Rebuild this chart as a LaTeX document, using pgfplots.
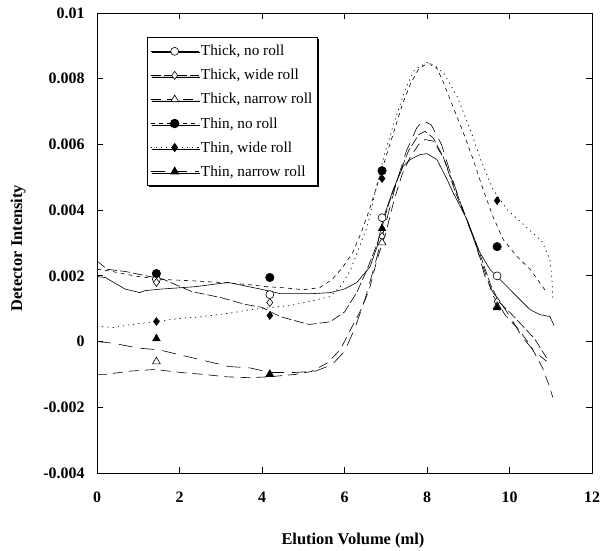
\documentclass[border=0pt]{standalone}
\usepackage{fontspec}
\setmainfont{Liberation Serif}
\usepackage{pgfplots}
\pgfplotsset{compat=1.18}
\usetikzlibrary{shadows}
\pgfplotsset{
  legline/.style={legend image code/.code={%
    \draw[black, line width=0.6bp, #1] (0bp,0bp) -- (48bp,0bp);%
    \draw[mark repeat=2,mark phase=2,##1] plot coordinates {(0bp,0bp)(24bp,0bp)(48bp,0bp)};}},
}
\begin{document}
\begin{tikzpicture}
\path[use as bounding box] (-97bp,-78bp) rectangle (506bp,473bp);
\begin{axis}[
  scale only axis, width=495bp, height=460bp,
  xmin=0, xmax=12, ymin=-0.004, ymax=0.01,
  xtick={0,2,4,6,8,10,12},
  ytick={-0.004,-0.002,0,0.002,0.004,0.006,0.008,0.01},
  scaled y ticks=false,
  /pgf/number format/assume math mode=true,
  yticklabel style={/pgf/number format/fixed, /pgf/number format/precision=3, xshift=-9bp},
  xticklabel style={yshift=-15bp},
  tick label style={font=\bfseries\fontsize{16}{18}\selectfont},
  tick align=inside, major tick length=6bp,
  axis line style={line width=0.9bp},
  every tick/.style={black, line width=0.8bp},
  every axis x label/.style={at={(axis description cs:0.517,0)}, anchor=center, yshift=-68bp},
  every axis y label/.style={at={(axis description cs:-0.159,0.489)}, rotate=90, anchor=center},
  label style={font=\bfseries\fontsize{16.5}{19}\selectfont},
  xlabel={Elution Volume (ml)},
  ylabel={Detector Intensity},
  legend style={at={(axis description cs:0.101,0.948)}, anchor=north west,
    draw=black, line width=0.8bp, fill=white,
    drop shadow={shadow xshift=1.5bp, shadow yshift=-1.5bp, fill=black, opacity=1},
    font=\fontsize{15.3}{18}\selectfont, row sep=8bp,
    inner xsep=3bp, inner ysep=6bp, cells={anchor=west}},
  legend cell align=left,
]
% ---------- lines ----------
% Thick, no roll (solid)
\addplot[black, line width=0.6bp, forget plot] coordinates {
(0,1.98e-3)(0.2,1.95e-3)(0.68,1.6e-3)(1.04,1.49e-3)(1.16,1.55e-3)(1.58,1.6e-3)(2.38,1.67e-3)
(3.18,1.8e-3)(3.95,1.6e-3)(4.44,1.46e-3)(5.24,1.46e-3)(5.65,1.49e-3)(6.0,1.6e-3)(6.3,1.8e-3)
(6.62,2.28e-3)(6.79,2.89e-3)(6.93,3.71e-3)(7.18,4.63e-3)(7.42,5.33e-3)(7.59,5.54e-3)(7.83,5.69e-3)
(8.0,5.72e-3)(8.24,5.54e-3)(8.5,4.9e-3)(8.63,4.54e-3)(8.97,3.71e-3)(9.28,2.71e-3)(9.53,2.19e-3)
(9.77,1.89e-3)(10.18,1.37e-3)(10.5,0.97e-3)(10.74,0.82e-3)(10.98,0.76e-3)(11.08,0.49e-3)};
% Thick, wide roll
\addplot[black, line width=0.6bp, dash pattern=on 10bp off 3bp, forget plot] coordinates {
(0,2.45e-3)(0.25,2.2e-3)(0.7,2.13e-3)(1.2,2.0e-3)(1.6,1.9e-3)(2.3,1.52e-3)(3.0,1.34e-3)
(3.6,1.13e-3)(4.0,1.04e-3)(4.44,0.76e-3)(4.9,0.6e-3)(5.15,0.52e-3)(5.65,0.6e-3)(6.0,0.9e-3)
(6.3,1.5e-3)(6.55,2.2e-3)(6.8,3.0e-3)(7.05,4.1e-3)(7.3,5.0e-3)(7.55,5.8e-3)(7.8,6.3e-3)
(7.95,6.4e-3)(8.15,6.2e-3)(8.4,5.6e-3)(8.7,4.5e-3)(9.0,3.6e-3)(9.3,2.6e-3)(9.55,1.7e-3)
(9.75,1.2e-3)(10.0,0.9e-3)(10.3,0.5e-3)(10.6,0.1e-3)(10.9,-0.5e-3)};
% Thick, narrow roll
\addplot[black, line width=0.6bp, dash pattern=on 10bp off 6bp, forget plot] coordinates {
(0,-1.0e-3)(0.2,-1.0e-3)(0.8,-0.9e-3)(1.4,-0.85e-3)(2.1,-0.95e-3)(2.6,-1.0e-3)(3.1,-1.07e-3)
(3.7,-1.1e-3)(4.2,-1.07e-3)(4.8,-1.0e-3)(5.2,-0.91e-3)(5.6,-0.64e-3)(5.9,-0.24e-3)(6.15,0.37e-3)
(6.4,0.97e-3)(6.6,1.58e-3)(6.79,2.5e-3)(7.0,3.3e-3)(7.2,4.3e-3)(7.4,5.1e-3)(7.6,5.63e-3)
(7.8,6.0e-3)(7.95,6.15e-3)(8.15,6.1e-3)(8.4,5.6e-3)(8.7,4.6e-3)(9.0,3.6e-3)(9.3,2.5e-3)
(9.6,1.4e-3)(9.9,0.8e-3)(10.2,0.4e-3)(10.5,-0.1e-3)(10.8,-0.8e-3)(10.95,-1.3e-3)(11.05,-1.7e-3)};
% Thin, no roll (dashed)
\addplot[black, line width=0.6bp, dash pattern=on 4bp off 4bp, forget plot] coordinates {
(0,2.2e-3)(0.3,2.15e-3)(0.7,2.05e-3)(1.0,1.98e-3)(1.6,1.89e-3)(2.3,1.85e-3)(3.0,1.8e-3)
(3.7,1.73e-3)(4.1,1.67e-3)(4.5,1.64e-3)(5.0,1.58e-3)(5.4,1.64e-3)(5.7,1.89e-3)(5.95,2.25e-3)
(6.2,2.71e-3)(6.4,3.3e-3)(6.6,4.0e-3)(6.8,4.8e-3)(7.0,5.6e-3)(7.2,6.4e-3)(7.4,7.2e-3)
(7.6,7.85e-3)(7.8,8.3e-3)(8.0,8.46e-3)(8.2,8.43e-3)(8.4,7.88e-3)(8.63,7.15e-3)(8.88,6.36e-3)
(9.12,5.54e-3)(9.36,4.63e-3)(9.6,3.8e-3)(9.85,3.1e-3)(10.18,2.59e-3)(10.5,2.2e-3)(10.7,1.85e-3)(10.9,1.5e-3)};
% Thin, wide roll (dotted)
\addplot[black, line width=0.7bp, dash pattern=on 1.2bp off 4bp, forget plot] coordinates {
(0,0.46e-3)(0.4,0.43e-3)(0.85,0.52e-3)(1.4,0.61e-3)(2.0,0.7e-3)(2.55,0.76e-3)(3.3,0.88e-3)
(3.7,0.97e-3)(4.7,1.1e-3)(5.15,1.22e-3)(5.65,1.37e-3)(5.9,1.67e-3)(6.15,2.19e-3)(6.4,3.01e-3)
(6.55,3.5e-3)(6.65,4.02e-3)(6.8,4.84e-3)(7.0,5.84e-3)(7.25,6.85e-3)(7.5,7.76e-3)(7.7,8.28e-3)
(8.0,8.49e-3)(8.4,8.19e-3)(8.73,7.46e-3)(9.05,6.45e-3)(9.3,5.54e-3)(9.6,4.63e-3)(9.94,4.02e-3)
(10.42,3.47e-3)(10.79,3.04e-3)(10.98,2.5e-3)(11.03,1.89e-3)(11.05,1.28e-3)};
% Thin, narrow roll
\addplot[black, line width=0.6bp, dash pattern=on 14bp off 8bp, forget plot] coordinates {
(0,0)(0.4,-0.05e-3)(1.0,-0.2e-3)(1.5,-0.25e-3)(2.0,-0.4e-3)(2.5,-0.55e-3)(3.2,-0.76e-3)
(3.7,-0.8e-3)(4.2,-0.94e-3)(4.8,-0.94e-3)(5.3,-0.9e-3)(5.7,-0.7e-3)(6.0,-0.3e-3)(6.25,0.4e-3)
(6.5,1.3e-3)(6.75,2.4e-3)(7.0,3.6e-3)(7.25,4.8e-3)(7.5,5.8e-3)(7.75,6.5e-3)(7.9,6.73e-3)
(8.1,6.6e-3)(8.35,6.0e-3)(8.6,5.0e-3)(8.9,3.9e-3)(9.2,2.9e-3)(9.4,2.0e-3)(9.6,1.5e-3)
(9.9,0.97e-3)(10.1,0.58e-3)(10.3,0.15e-3)(10.6,-0.3e-3)(10.9,-0.6e-3)};
% ---------- markers ----------
\addplot[only marks, mark=*, mark size=4bp, mark options={fill=white, draw=black, line width=0.6bp, solid}, legline={solid}]
 coordinates {(1.44,1.89e-3)(4.19,1.43e-3)(6.91,3.77e-3)(9.7,2.0e-3)};
\addlegendentry{Thick, no roll}
\addplot[only marks, mark=diamond*, mark size=4bp, mark options={fill=white, draw=black, line width=0.6bp, solid}, legline={dash pattern=on 10bp off 3bp}]
 coordinates {(1.44,1.8e-3)(4.19,1.19e-3)(6.91,3.2e-3)(9.7,1.22e-3)};
\addlegendentry{Thick, wide roll}
\addplot[only marks, mark=triangle*, mark size=4.5bp, mark options={fill=white, draw=black, line width=0.6bp, solid}, legline={dash pattern=on 10bp off 6bp}]
 coordinates {(1.44,-0.61e-3)(4.19,-1.0e-3)(6.91,3.01e-3)(9.7,1.07e-3)};
\addlegendentry{Thick, narrow roll}
\addplot[only marks, mark=*, mark size=4.3bp, mark options={fill=black, draw=black, solid}, legline={dash pattern=on 4bp off 4bp}]
 coordinates {(1.44,2.07e-3)(4.19,1.95e-3)(6.91,5.2e-3)(9.7,2.89e-3)};
\addlegendentry{Thin, no roll}
\addplot[only marks, mark=diamond*, mark size=4bp, mark options={fill=black, draw=black, solid}, legline={dash pattern=on 1.2bp off 4bp}]
 coordinates {(1.44,0.61e-3)(4.19,0.79e-3)(6.91,4.96e-3)(9.7,4.29e-3)};
\addlegendentry{Thin, wide roll}
\addplot[only marks, mark=triangle*, mark size=4.5bp, mark options={fill=black, draw=black, solid}, legline={dash pattern=on 14bp off 8bp}]
 coordinates {(1.44,0.09e-3)(4.19,-1.0e-3)(6.91,3.44e-3)(9.7,1.03e-3)};
\addlegendentry{Thin, narrow roll}
\end{axis}
\end{tikzpicture}
\end{document}
